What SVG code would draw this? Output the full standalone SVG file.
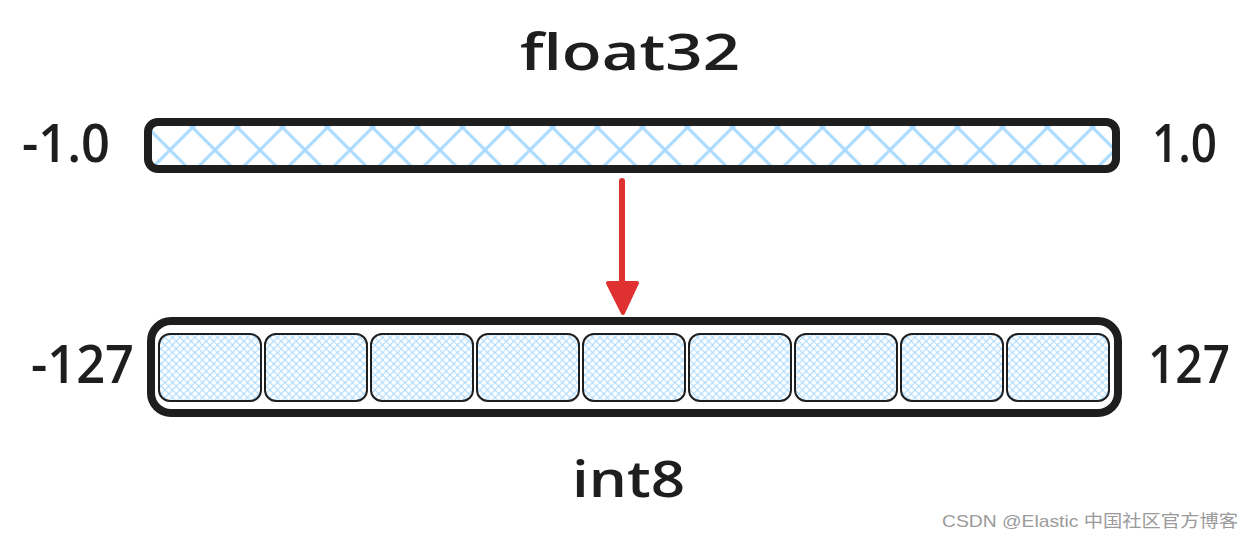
<svg xmlns="http://www.w3.org/2000/svg" width="1254" height="540" viewBox="0 0 1254 540">
  <style>
    .lbl { font-family: "Open Sans", "Liberation Sans", sans-serif; fill: #1e1e1e; font-weight: 600; }
    .cell { fill: url(#fine); stroke: #1e1e1e; stroke-width: 2; }
    .wm { font-family: "Liberation Sans", "Noto Sans CJK SC", sans-serif; fill: #9a9a9a; font-size: 17px; }
  </style>
  <defs>
    <pattern id="coarse" patternUnits="userSpaceOnUse" x="147.5" y="127.5" width="45" height="45">
      <path d="M0,0 L45,45 M45,0 L0,45" stroke="#a5d8ff" stroke-width="3" fill="none"/>
    </pattern>
    <pattern id="fine" patternUnits="userSpaceOnUse" x="0" y="0" width="7.5" height="7.5">
      <path d="M0,0 L7.5,7.5 M7.5,0 L0,7.5" stroke="#a5d8ff" stroke-width="1" fill="none"/>
    </pattern>
    <marker id="head" markerWidth="10" markerHeight="10" refX="5" refY="5" orient="auto" markerUnits="userSpaceOnUse">
      <path d="M0,0 L10,5 L0,10 Z" fill="#e03131"/>
    </marker>
  </defs>
  <rect width="1254" height="540" fill="#ffffff"/>

  <g id="float32-bar">
    <rect x="148" y="122" width="968" height="47" rx="10" fill="url(#coarse)" stroke="#1e1e1e" stroke-width="8"/>
  </g>

  <g id="int8-bar">
    <rect x="151" y="321" width="967" height="92" rx="20" fill="none" stroke="#1e1e1e" stroke-width="8"/>
    <g id="cells">
      <rect class="cell" x="159" y="334" width="102" height="67" rx="11"/>
      <rect class="cell" x="265" y="334" width="102" height="67" rx="11"/>
      <rect class="cell" x="371" y="334" width="102" height="67" rx="11"/>
      <rect class="cell" x="477" y="334" width="102" height="67" rx="11"/>
      <rect class="cell" x="583" y="334" width="102" height="67" rx="11"/>
      <rect class="cell" x="689" y="334" width="102" height="67" rx="11"/>
      <rect class="cell" x="795" y="334" width="102" height="67" rx="11"/>
      <rect class="cell" x="901" y="334" width="102" height="67" rx="11"/>
      <rect class="cell" x="1007" y="334" width="102" height="67" rx="11"/>
    </g>
  </g>

  <g id="connectors">
    <line x1="622" y1="181" x2="622" y2="284" stroke="#e03131" stroke-width="6" stroke-linecap="round"/>
    <path d="M608,283 L637,283 L623,313 Z" fill="#e03131" stroke="#e03131" stroke-width="4" stroke-linejoin="round"/>
  </g>

  <g id="labels">
    <text class="lbl" x="520" y="70" font-size="50" textLength="220" lengthAdjust="spacingAndGlyphs">float32</text>
    <text class="lbl" x="22" y="162" font-size="52" textLength="88" lengthAdjust="spacingAndGlyphs">-1.0</text>
    <text class="lbl" x="1152" y="162" font-size="52" textLength="65" lengthAdjust="spacingAndGlyphs">1.0</text>
    <text class="lbl" x="31" y="383" font-size="52" textLength="103" lengthAdjust="spacingAndGlyphs">-127</text>
    <text class="lbl" x="1148" y="383" font-size="52" textLength="82" lengthAdjust="spacingAndGlyphs">127</text>
    <text class="lbl" x="572" y="497" font-size="50" textLength="113" lengthAdjust="spacingAndGlyphs">int8</text>
  </g>

  <text class="wm" x="942" y="527" textLength="296" lengthAdjust="spacingAndGlyphs">CSDN @Elastic 中国社区官方博客</text>
</svg>
